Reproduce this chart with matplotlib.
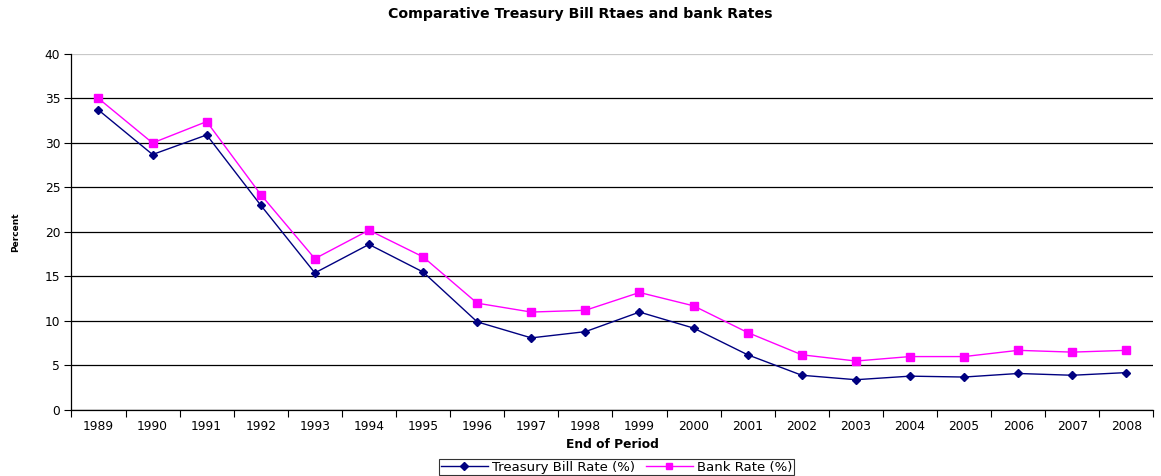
import numpy as np
import matplotlib
matplotlib.use("Agg")
import matplotlib.pyplot as plt

plt.rcParams['font.family'] = ['DejaVu Sans']

# data
years = ['1989', '1990', '1991', '1992', '1993', '1994', '1995', '1996', '1997', '1998',
         '1999', '2000', '2001', '2002', '2003', '2004', '2005', '2006', '2007', '2008']
tbill = [33.7, 28.7, 30.9, 23.0, 15.4, 18.6, 15.5, 9.9, 8.1, 8.8,
         11.0, 9.2, 6.2, 3.9, 3.4, 3.8, 3.7, 4.1, 3.9, 4.2]
bank = [35.0, 30.0, 32.4, 24.2, 17.0, 20.2, 17.2, 12.0, 11.0, 11.2,
        13.2, 11.7, 8.7, 6.2, 5.5, 6.0, 6.0, 6.7, 6.5, 6.7]
yticks = [0, 5, 10, 15, 20, 25, 30, 35, 40]

fig = plt.figure(figsize=(11.61, 4.76), dpi=100)
ax = fig.add_axes([0.0615, 0.1387, 0.932, 0.748])

x = np.arange(len(years))
ax.plot(x, tbill, color='#000080', marker='D', markersize=4.5, lw=1.0,
        label='Treasury Bill Rate (%)', zorder=3)
ax.plot(x, bank, color='#FF00FF', marker='s', markersize=6, lw=1.0,
        label='Bank Rate (%)', zorder=3)

ax.set_xlim(-0.5, len(years) - 0.5)
ax.set_ylim(0, 40)
ax.set_yticks(yticks)
ax.set_yticklabels([str(v) for v in yticks], fontsize=8.8)
# excel-style category axis: ticks between categories, labels centered
ax.set_xticks(np.arange(-0.5, len(years), 1.0))
ax.set_xticklabels([])
ax.set_xticks(x, minor=True)
ax.set_xticklabels(years, minor=True, fontsize=8.8)
ax.tick_params(axis='x', which='minor', length=0, pad=7)
ax.tick_params(axis='x', which='major', length=5, direction='out', color='black')
ax.tick_params(axis='y', length=5, direction='out', pad=3)

ax.grid(axis='y', color='black', lw=0.9)
ax.get_ygridlines()[-1].set_color('#c8c8c8')
ax.set_axisbelow(True)
for s in ['top', 'right']:
    ax.spines[s].set_visible(False)
for s in ['left', 'bottom']:
    ax.spines[s].set_linewidth(0.9)

ax.set_xlabel('End of Period', fontsize=8.8, fontweight='bold', labelpad=4)
ax.set_ylabel('Percent', fontsize=6.5, fontweight='bold', labelpad=18)
fig.suptitle('Comparative Treasury Bill Rtaes and bank Rates', fontsize=10.2,
             fontweight='bold', y=0.985)

leg = fig.legend(loc='lower center', bbox_to_anchor=(0.531, -0.012), ncol=2,
                 fontsize=9.5, frameon=True, fancybox=False, edgecolor='black',
                 handlelength=3.6, columnspacing=0.8, handletextpad=0.3,
                 borderpad=0.1, markerscale=0.8)
leg.get_frame().set_linewidth(0.8)

fig.savefig('out.png', dpi=100)
